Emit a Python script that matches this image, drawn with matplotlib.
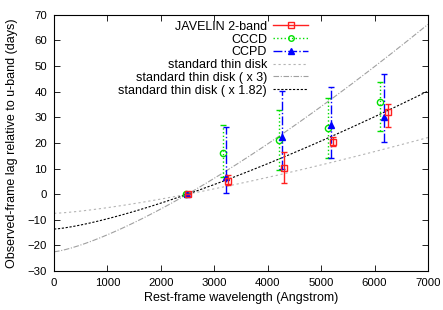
import numpy as np
import matplotlib
matplotlib.use("Agg")
import matplotlib.pyplot as plt
from matplotlib.lines import Line2D

plt.rcParams['font.family'] = ['Liberation Sans', 'DejaVu Sans']
plt.rcParams['font.size'] = 9

# data (wavelength in Angstrom, lag in days)
jav_x = [2500, 3265, 4297, 5216, 6247]
jav_y = [0.0, 5.2, 10.2, 20.3, 32.0]
jav_lo = [0.0, 1.7, 5.9, 1.5, 5.8]
jav_hi = [0.0, 2.2, 6.2, 2.0, 3.2]

cccd_x = [2470, 3171, 4203, 5122, 6097]
cccd_y = [0.0, 16.0, 21.0, 25.8, 36.0]
cccd_lo = [0.0, 9.5, 11.6, 11.8, 11.4]
cccd_hi = [0.0, 11.0, 12.0, 11.7, 7.8]

ccpd_x = [2490, 3228, 4260, 5179, 6172]
ccpd_y = [0.0, 6.6, 22.3, 27.0, 30.1]
ccpd_lo = [0.0, 6.2, 12.5, 13.0, 9.8]
ccpd_hi = [0.0, 19.6, 18.0, 15.0, 17.0]

# thin disk model: lag = A * ((lam/lam0)^(4/3) - 1)
lam0 = 2500.0
amp = 7.5
scales = [1.0, 3.0, 1.82]

fig = plt.figure(figsize=(4.43, 3.10), dpi=100)
ax = fig.add_axes([0.122, 0.126, 0.844, 0.826])

lam = np.linspace(0, 7000, 400)
model = lambda s: s * amp * ((lam / lam0) ** (4.0 / 3.0) - 1)
ax.plot(lam, model(scales[0]), color='#b4b4b4', lw=0.8, ls=(0, (2, 2.5)))
ax.plot(lam, model(scales[1]), color='#a0a0a0', lw=0.8, ls=(0, (5, 1.5, 1, 1.5)))
ax.plot(lam, model(scales[2]), color='black', lw=0.8, ls=(0, (2, 1.5)))

ax.errorbar(cccd_x, cccd_y, yerr=[cccd_lo, cccd_hi], fmt='o', mfc='none',
            color='#00e000', mew=1.0, ms=4.5, elinewidth=1.0, capsize=2,
            ls='none', zorder=3)
for line in ax.containers[-1][2]:
    line.set_linestyle(':')
ax.errorbar(ccpd_x, ccpd_y, yerr=[ccpd_lo, ccpd_hi], fmt='^', color='#0000ff',
            ms=4.5, elinewidth=1.0, capsize=2, ls='none', zorder=4)
for line in ax.containers[-1][2]:
    line.set_linestyle('-.')
ax.errorbar(jav_x, jav_y, yerr=[jav_lo, jav_hi], fmt='s', mfc='none',
            color='#ff2020', mew=1.0, ms=4.5, elinewidth=1.0, capsize=2,
            ls='none', zorder=5)

ax.set_xlim(0, 7000)
ax.set_ylim(-30, 70)
ax.set_xticks(np.arange(0, 7001, 1000))
ax.set_yticks(np.arange(-30, 71, 10))
ax.tick_params(direction='in', top=True, right=True, length=4, width=0.6,
               labelsize=8.2, colors='black', pad=5)
for s in ax.spines.values():
    s.set_linewidth(0.8)
ax.set_xlabel('Rest-frame wavelength (Angstrom)', fontsize=9, labelpad=3)
ax.set_ylabel('Observed-frame lag relative to u-band (days)', fontsize=9,
              labelpad=7)

handles = [
    Line2D([], [], color='#ff2020', ls='-', marker='s', mfc='none', ms=4, lw=1),
    Line2D([], [], color='#00e000', ls=':', marker='o', mfc='none', ms=4, lw=1),
    Line2D([], [], color='#0000ff', ls='-.', marker='^', ms=4, lw=1),
    Line2D([], [], color='#b4b4b4', ls=(0, (2, 2.5)), lw=0.8),
    Line2D([], [], color='#a0a0a0', ls=(0, (5, 1.5, 1, 1.5)), lw=0.8),
    Line2D([], [], color='black', ls=(0, (2, 1.5)), lw=0.8),
]
labels = ['JAVELIN 2-band', 'CCCD', 'CCPD', 'standard thin disk',
          'standard thin disk ( x 3)', 'standard thin disk ( x 1.82)']
ax.legend(handles, labels, loc='upper right', bbox_to_anchor=(0.68, 0.977),
          markerfirst=False, frameon=False, fontsize=9, handlelength=2.8,
          handletextpad=0.5, labelspacing=0.06, borderaxespad=0, borderpad=0)

fig.savefig('out.png', dpi=100)
